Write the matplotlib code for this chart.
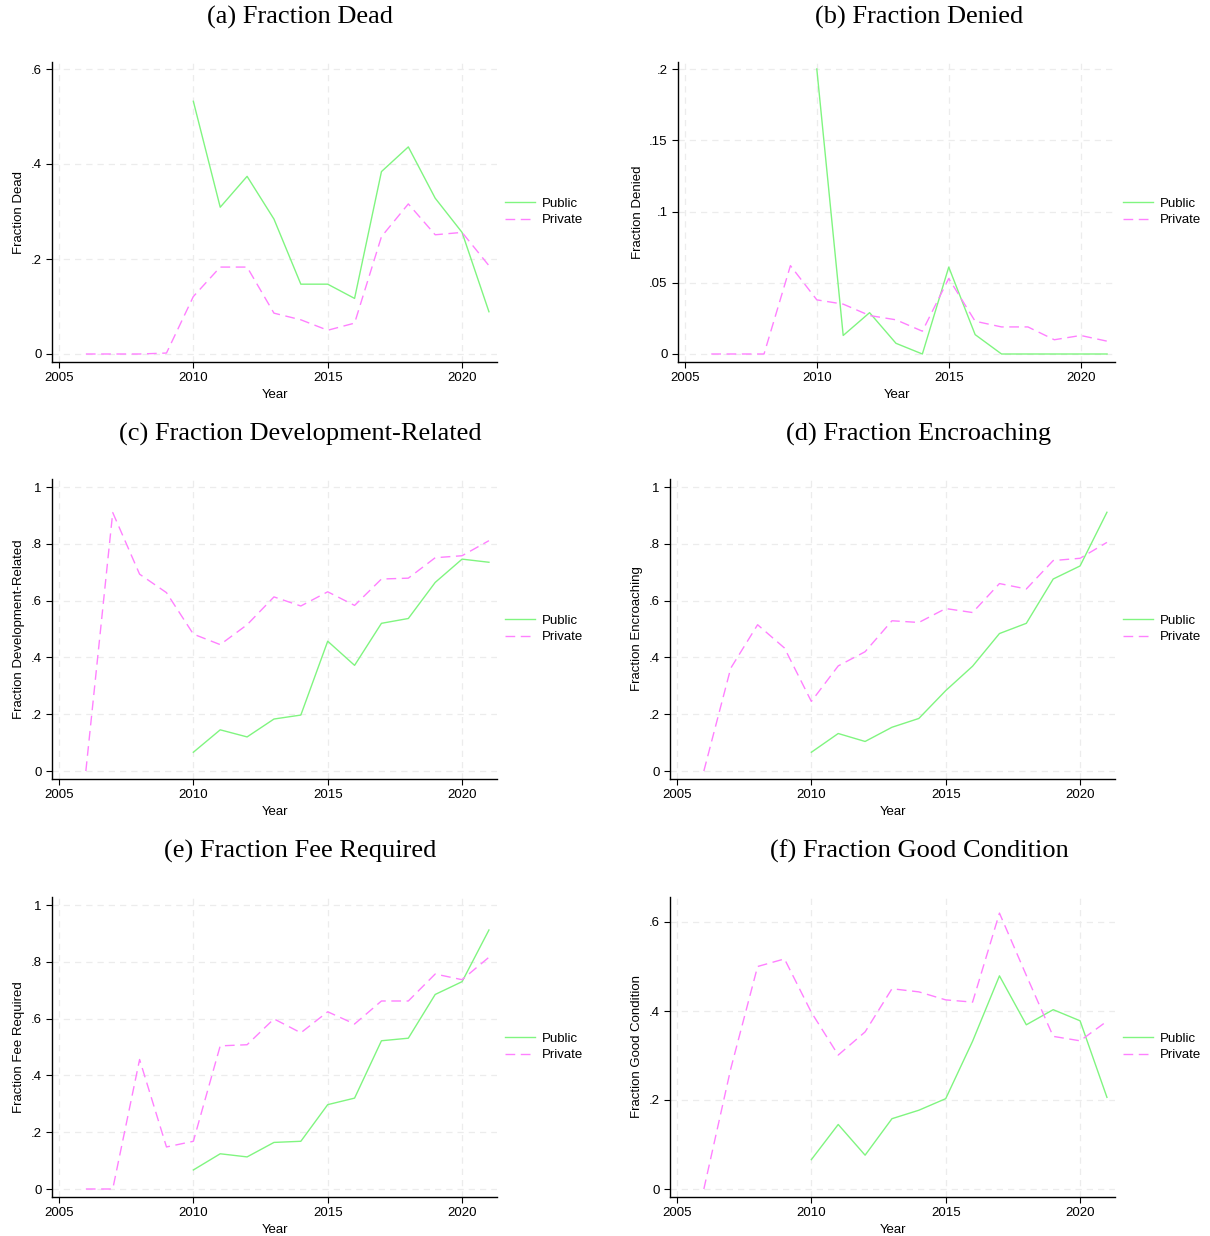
import numpy as np
import matplotlib
matplotlib.use("Agg")
import matplotlib.pyplot as plt
from matplotlib.ticker import FuncFormatter

plt.rcParams['font.family'] = ['Liberation Sans', 'DejaVu Sans']

years_public = list(range(2010, 2022))
years_private = list(range(2006, 2022))

# (a) Fraction Dead
dead_public = [0.532, 0.309, 0.374, 0.284, 0.147, 0.147, 0.117, 0.384, 0.436, 0.328, 0.256, 0.089]
dead_private = [0, 0, 0, 0.002, 0.121, 0.183, 0.183, 0.086, 0.072, 0.050, 0.065, 0.247, 0.316, 0.251, 0.256, 0.186]

# (b) Fraction Denied
denied_public = [0.200, 0.013, 0.029, 0.0075, 0.0, 0.061, 0.0136, 0, 0, 0, 0, 0]
denied_private = [0, 0, 0, 0.062, 0.038, 0.035, 0.027, 0.024, 0.016, 0.053, 0.023, 0.019, 0.019, 0.010, 0.013, 0.009]

# (c) Fraction Development-Related
dev_public = [0.066, 0.145, 0.120, 0.183, 0.197, 0.457, 0.372, 0.520, 0.537, 0.664, 0.746, 0.735]
dev_private = [0, 0.910, 0.693, 0.628, 0.482, 0.445, 0.515, 0.613, 0.581, 0.631, 0.583, 0.676, 0.679, 0.751, 0.758, 0.811]

# (d) Fraction Encroaching
enc_public = [0.066, 0.132, 0.104, 0.154, 0.185, 0.283, 0.369, 0.484, 0.520, 0.676, 0.722, 0.911]
enc_private = [0, 0.362, 0.515, 0.433, 0.245, 0.370, 0.420, 0.529, 0.523, 0.572, 0.558, 0.660, 0.641, 0.741, 0.749, 0.805]

# (e) Fraction Fee Required
fee_public = [0.067, 0.124, 0.113, 0.164, 0.168, 0.297, 0.320, 0.522, 0.531, 0.685, 0.730, 0.912]
fee_private = [0, 0, 0.456, 0.148, 0.168, 0.504, 0.508, 0.599, 0.550, 0.624, 0.581, 0.662, 0.662, 0.757, 0.737, 0.816]

# (f) Fraction Good Condition
good_public = [0.066, 0.145, 0.076, 0.158, 0.177, 0.203, 0.332, 0.479, 0.369, 0.403, 0.378, 0.206]
good_private = [0, 0.27, 0.500, 0.517, 0.397, 0.301, 0.353, 0.450, 0.443, 0.425, 0.420, 0.620, 0.480, 0.343, 0.333, 0.377]

titles = ["(a) Fraction Dead", "(b) Fraction Denied", "(c) Fraction Development-Related",
          "(d) Fraction Encroaching", "(e) Fraction Fee Required", "(f) Fraction Good Condition"]
ylabels = ["Fraction Dead", "Fraction Denied", "Fraction Development-Related",
           "Fraction Encroaching", "Fraction Fee Required", "Fraction Good Condition"]
publics = [dead_public, denied_public, dev_public, enc_public, fee_public, good_public]
privates = [dead_private, denied_private, dev_private, enc_private, fee_private, good_private]
yticks = [[0, 0.2, 0.4, 0.6], [0, 0.05, 0.1, 0.15, 0.2], [0, 0.2, 0.4, 0.6, 0.8, 1],
          [0, 0.2, 0.4, 0.6, 0.8, 1], [0, 0.2, 0.4, 0.6, 0.8, 1], [0, 0.2, 0.4, 0.6]]
ytops = [0.6, 0.2, 1.0, 1.0, 1.0, 0.6]
# extra room above the top tick, in pixels
top_pad = [7, 7, 8, 8, 8, 25]

W, H = 1210, 1236
# axes boxes in pixels: left, right, top, bottom
boxes = [(52, 497, 62, 362), (678, 1115, 62, 362),
         (52, 497, 479, 779), (670, 1115, 479, 779),
         (52, 497, 897, 1197), (670, 1115, 897, 1197)]
title_y = [17, 17, 434, 434, 851, 851]
title_x = [300, 919]

fig = plt.figure(figsize=(W / 100, H / 100), dpi=100)


def fmt(v, pos):
    if abs(v) < 1e-9:
        return "0"
    s = ("%.2f" % v).rstrip("0").rstrip(".")
    if s.startswith("0."):
        s = s[1:]
    return s


green = "#80f580"
pink = "#ff80ff"

for i in range(6):
    l, r, t, b = boxes[i]
    ax = fig.add_axes([l / W, 1 - b / H, (r - l) / W, (b - t) / H])
    ax.plot(years_public, publics[i], color=green, lw=1.0, label="Public")
    ax.plot(years_private, privates[i], color=pink, lw=1.0, ls=(0, (7, 4)), label="Private")

    # data span in pixels: 0 sits 8px above the bottom spine
    span_px = (b - t) - 8 - top_pad[i]
    per = ytops[i] / span_px
    ax.set_ylim(-8 * per, ytops[i] + top_pad[i] * per)
    ax.set_xlim(2004.74, 2021.3)

    ax.set_xticks([2005, 2010, 2015, 2020])
    ax.set_yticks(yticks[i])
    ax.yaxis.set_major_formatter(FuncFormatter(fmt))
    ax.tick_params(labelsize=9.5, length=4, width=0.8, colors="black")
    ax.grid(True, color="#ececec", ls=(0, (5, 4)), lw=0.9)
    ax.set_axisbelow(True)
    for s in ["top", "right"]:
        ax.spines[s].set_visible(False)
    for s in ["left", "bottom"]:
        ax.spines[s].set_linewidth(1.0)
    ax.set_xlabel("Year", fontsize=9.5, labelpad=3)
    ax.set_ylabel(ylabels[i], fontsize=9.5, labelpad=4)

    ax.legend(loc="center left", bbox_to_anchor=(1.0, 0.5), frameon=False,
              fontsize=9.5, handlelength=2.3, handletextpad=0.5, labelspacing=0.3,
              borderaxespad=0.2)

    fig.text(title_x[i % 2] / W, 1 - title_y[i] / H, titles[i], ha="center", va="center",
             fontsize=19, family=["Liberation Serif", "DejaVu Serif"])

fig.savefig("out.png", dpi=100)
